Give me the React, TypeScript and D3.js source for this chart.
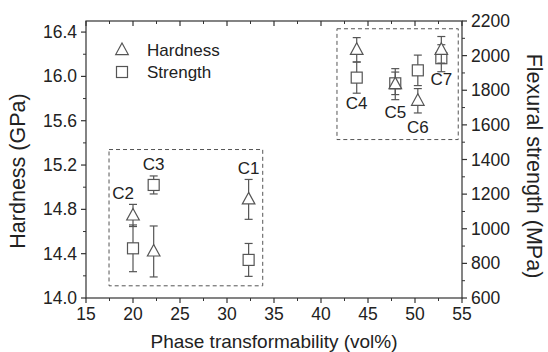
import React from 'react'
import * as d3 from 'd3'

// data
const samples = ['C1', 'C2', 'C3', 'C4', 'C5', 'C6', 'C7']
const transform = [32.3, 20.0, 22.2, 43.8, 47.9, 50.3, 52.8]
const hardness = [14.89, 14.745, 14.42, 16.24, 15.93, 15.78, 16.24]
const hardnessErr = [0.18, 0.1, 0.23, 0.11, 0.14, 0.11, 0.12]
const strength = [820, 887, 1253, 1873, 1840, 1915, 1985]
const strengthErr = [95, 135, 52, 90, 65, 88, 78]

const xTicks = [15, 20, 25, 30, 35, 40, 45, 50, 55]
const hTicks = [14.0, 14.4, 14.8, 15.2, 15.6, 16.0, 16.4]
const sTicks = [600, 800, 1000, 1200, 1400, 1600, 1800, 2000, 2200]

// label offsets for each sample name
const labelPos = [
  { dx: 0, dy: -25, series: 'h' },
  { dx: -10, dy: -16, series: 'h' },
  { dx: 0, dy: -15, series: 's' },
  { dx: 0, dy: 31, series: 's' },
  { dx: 0, dy: 35, series: 's' },
  { dx: 0, dy: 32, series: 'h' },
  { dx: 0, dy: 35, series: 'h' },
]

export default function App() {
  const W = 548, H = 352
  const m = { left: 86, right: 86, top: 21, bottom: 54 }
  const x = d3.scaleLinear().domain([15, 55]).range([m.left, W - m.right])
  const yH = d3.scaleLinear().domain([14, 16.5]).range([H - m.bottom, m.top])
  const yS = d3.scaleLinear().domain([600, 2200]).range([H - m.bottom, m.top])
  const x0 = m.left, x1 = W - m.right, y0 = H - m.bottom, y1 = m.top

  const ink = '#333'
  const mark = '#555'
  const font = 'Liberation Sans, Arial, sans-serif'

  const xMinor = d3.range(17.5, 55, 5)
  const hMinor = d3.range(14.2, 16.5, 0.4)
  const sMinor = d3.range(700, 2200, 200)

  const tri = (cx: number, cy: number, r = 7) =>
    `M${cx},${cy - r} L${cx + r * 0.9},${cy + r * 0.65} L${cx - r * 0.9},${cy + r * 0.65} Z`

  const errBar = (cx: number, top: number, bot: number, key: string) => (
    <g key={key} stroke={mark} strokeWidth={1.2}>
      <line x1={cx} x2={cx} y1={top} y2={bot} />
      <line x1={cx - 4} x2={cx + 4} y1={top} y2={top} />
      <line x1={cx - 4} x2={cx + 4} y1={bot} y2={bot} />
    </g>
  )

  return (
    <svg width={W} height={H} style={{ position: 'absolute', left: 0, top: 0, background: '#fff' }} fontFamily={font}>
      {/* dashed group boxes */}
      <rect x={x(17.45)} y={yH(15.34)} width={x(33.8) - x(17.45)} height={yH(14.11) - yH(15.34)}
        fill="none" stroke={mark} strokeWidth={1} strokeDasharray="4,3" />
      <rect x={x(41.7)} y={yH(16.43)} width={x(54.6) - x(41.7)} height={yH(15.43) - yH(16.43)}
        fill="none" stroke={mark} strokeWidth={1} strokeDasharray="4,3" />

      {/* frame */}
      <rect x={x0} y={y1} width={x1 - x0} height={y0 - y1} fill="none" stroke={ink} strokeWidth={1.2} />

      {/* bottom & top ticks */}
      {xTicks.map(t => (
        <g key={'x' + t}>
          <line x1={x(t)} x2={x(t)} y1={y0} y2={y0 + 5} stroke={ink} strokeWidth={1.2} />
          <line x1={x(t)} x2={x(t)} y1={y1} y2={y1 + 5} stroke={ink} strokeWidth={1.2} />
          <text x={x(t)} y={y0 + 22} fontSize={17.5} textAnchor="middle" fill="#222">{t}</text>
        </g>
      ))}
      {xMinor.map(t => (
        <g key={'xm' + t}>
          <line x1={x(t)} x2={x(t)} y1={y0} y2={y0 + 3} stroke={ink} strokeWidth={1} />
          <line x1={x(t)} x2={x(t)} y1={y1} y2={y1 + 3} stroke={ink} strokeWidth={1} />
        </g>
      ))}

      {/* left axis */}
      {hTicks.map(t => (
        <g key={'h' + t}>
          <line x1={x0 - 5} x2={x0} y1={yH(t)} y2={yH(t)} stroke={ink} strokeWidth={1.2} />
          <text x={x0 - 9} y={yH(t) + 6} fontSize={17.5} textAnchor="end" fill="#222">{t.toFixed(1)}</text>
        </g>
      ))}
      {hMinor.map(t => (
        <line key={'hm' + t} x1={x0 - 3} x2={x0} y1={yH(t)} y2={yH(t)} stroke={ink} strokeWidth={1} />
      ))}

      {/* right axis */}
      {sTicks.map(t => (
        <g key={'s' + t}>
          <line x1={x1} x2={x1 + 5} y1={yS(t)} y2={yS(t)} stroke={ink} strokeWidth={1.2} />
          <text x={x1 + 9} y={yS(t) + 6} fontSize={17.5} textAnchor="start" fill="#222">{t}</text>
        </g>
      ))}
      {sMinor.map(t => (
        <line key={'sm' + t} x1={x1} x2={x1 + 3} y1={yS(t)} y2={yS(t)} stroke={ink} strokeWidth={1} />
      ))}

      {/* axis titles */}
      <text x={(x0 + x1) / 2} y={H - 4} fontSize={19} textAnchor="middle" fill="#222">Phase transformability (vol%)</text>
      <text transform={`translate(25,171) rotate(-90)`} fontSize={21.5} textAnchor="middle" fill="#222">Hardness (GPa)</text>
      <text transform={`translate(527,166) rotate(90)`} fontSize={21.5} textAnchor="middle" fill="#222">Flexural strength (MPa)</text>

      {/* strength */}
      {samples.map((s, i) => {
        const cx = x(transform[i]), cy = yS(strength[i])
        return (
          <g key={'sq' + s}>
            {errBar(cx, yS(strength[i] + strengthErr[i]), yS(strength[i] - strengthErr[i]), 'se' + s)}
            <rect x={cx - 5.5} y={cy - 5.5} width={11} height={11} fill="#fff" stroke={mark} strokeWidth={1.2} />
          </g>
        )
      })}

      {/* hardness */}
      {samples.map((s, i) => {
        const cx = x(transform[i]), cy = yH(hardness[i])
        return (
          <g key={'tr' + s}>
            {errBar(cx, yH(hardness[i] + hardnessErr[i]), yH(hardness[i] - hardnessErr[i]), 'he' + s)}
            <path d={tri(cx, cy)} fill="#fff" stroke={mark} strokeWidth={1.2} />
          </g>
        )
      })}

      {/* sample labels */}
      {samples.map((s, i) => {
        const p = labelPos[i]
        const cx = x(transform[i])
        const cy = p.series === 'h' ? yH(hardness[i]) : yS(strength[i])
        return (
          <text key={'l' + s} x={cx + p.dx} y={cy + p.dy} fontSize={17} textAnchor="middle" fill="#222">{s}</text>
        )
      })}

      {/* legend */}
      <path d={tri(122, 50)} fill="#fff" stroke={mark} strokeWidth={1.2} />
      <text x={147} y={56} fontSize={17} fill="#222">Hardness</text>
      <rect x={116.5} y={66.5} width={11} height={11} fill="#fff" stroke={mark} strokeWidth={1.2} />
      <text x={147} y={78} fontSize={17} fill="#222">Strength</text>
    </svg>
  )
}
